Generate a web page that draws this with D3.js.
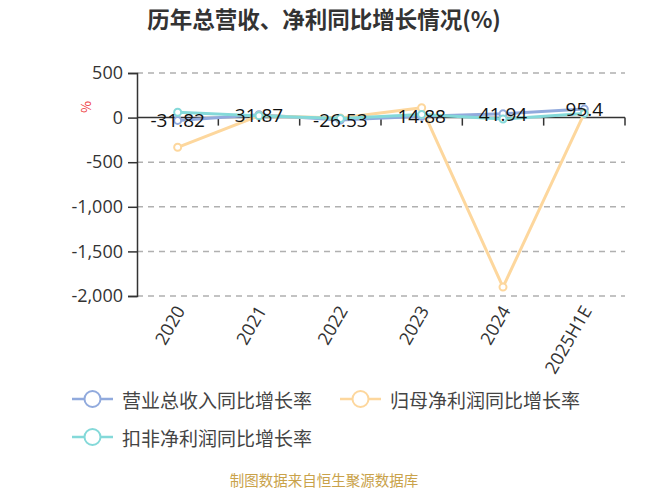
<!DOCTYPE html>
<html>
<head>
<meta charset="utf-8">
<script src="https://cdn.jsdelivr.net/npm/d3@7/dist/d3.min.js"></script>
<style>
  body { margin: 0; background: #fff; }
  svg { display: block; font-family: "Noto Sans CJK SC", "Noto Sans", sans-serif; }
</style>
</head>
<body>
<div id="chart"></div>
<script>
// 数据
const years = ['2020', '2021', '2022', '2023', '2024', '2025H1E'];
const revenueGrowth = [-31.82, 31.87, -26.53, 14.88, 41.94, 95.4];
const netProfitGrowth = [-333, 20, -5, 110, -1900, 50];
const deductedProfitGrowth = [60, 20, -10, 36, -17, 47];
const yTicks = [500, 0, -500, -1000, -1500, -2000];

const seriesNames = ['营业总收入同比增长率', '归母净利润同比增长率', '扣非净利润同比增长率'];
const seriesColors = ['#91aadd', '#fdd79d', '#84d9d9'];

const numFont = '"Open Sans", "Noto Sans", sans-serif';
const width = 650, height = 488;
const margin = { left: 137, right: 25, top: 73, bottom: 192 };

const svg = d3.select('#chart').append('svg')
    .attr('width', width)
    .attr('height', height);

// 标题
svg.append('text')
    .attr('x', 324)
    .attr('y', 28)
    .attr('text-anchor', 'middle')
    .attr('font-size', 22.5)
    .attr('font-weight', 'bold')
    .attr('fill', '#333')
    .text('历年总营收、净利同比增长情况(%)');

const x = d3.scaleBand()
    .domain(years)
    .range([margin.left, width - margin.right]);

const y = d3.scaleLinear()
    .domain([-2000, 500])
    .range([height - margin.bottom, margin.top]);

// 网格线
svg.append('g')
    .selectAll('line')
    .data(yTicks.filter(d => d !== 0))
    .enter()
    .append('line')
    .attr('x1', margin.left)
    .attr('x2', width - margin.right)
    .attr('y1', d => y(d))
    .attr('y2', d => y(d))
    .attr('stroke', '#b0b0b0')
    .attr('stroke-width', 1.5)
    .attr('stroke-dasharray', '6,5');

// Y轴 (用普通连字符作负号)
const fmt = d3.format(',');
const yAxis = svg.append('g')
    .attr('transform', `translate(${margin.left},0)`)
    .call(d3.axisLeft(y).tickValues(yTicks)
        .tickFormat(d => fmt(d).replace('\u2212', '-'))
        .tickSizeOuter(0).tickSize(9).tickPadding(5));
yAxis.select('.domain').attr('stroke', '#333').attr('stroke-width', 1.5);
yAxis.selectAll('.tick line').attr('stroke', '#333').attr('stroke-width', 1.5);
yAxis.selectAll('.tick text')
    .attr('font-size', 18)
    .attr('fill', '#333')
    .attr('font-family', numFont);

// 单位
svg.append('text')
    .attr('transform', 'translate(91,107) rotate(-90)')
    .attr('text-anchor', 'middle')
    .attr('font-size', 13)
    .attr('fill', '#e33')
    .text('%');

// X轴 (位于0处)
const xAxis = svg.append('g')
    .attr('transform', `translate(0,${y(0)})`);
xAxis.append('line')
    .attr('x1', margin.left)
    .attr('x2', width - margin.right)
    .attr('stroke', '#333')
    .attr('stroke-width', 1.5);
xAxis.selectAll('.xtick')
    .data(years)
    .enter()
    .append('line')
    .attr('x1', d => x(d) + x.bandwidth())
    .attr('x2', d => x(d) + x.bandwidth())
    .attr('y1', 0)
    .attr('y2', 8)
    .attr('stroke', '#333')
    .attr('stroke-width', 1.5);

// X轴标签
svg.append('g')
    .selectAll('text')
    .data(years)
    .enter()
    .append('text')
    .attr('transform', d => `translate(${x(d) + x.bandwidth() / 2 + 2},${y(-2000) + 11}) rotate(-60)`)
    .attr('text-anchor', 'end')
    .attr('dominant-baseline', 'central')
    .attr('font-size', 18)
    .attr('fill', '#333')
    .attr('font-family', numFont)
    .text(d => d);

// 折线
const allSeries = [revenueGrowth, netProfitGrowth, deductedProfitGrowth];
const line = d3.line()
    .x((d, i) => x(years[i]) + x.bandwidth() / 2)
    .y(d => y(d));

allSeries.forEach((values, si) => {
    const g = svg.append('g');
    g.append('path')
        .datum(values)
        .attr('d', line)
        .attr('fill', 'none')
        .attr('stroke', seriesColors[si])
        .attr('stroke-width', 3)
        .attr('stroke-linejoin', 'round');
    g.selectAll('circle')
        .data(values)
        .enter()
        .append('circle')
        .attr('cx', (d, i) => x(years[i]) + x.bandwidth() / 2)
        .attr('cy', d => y(d))
        .attr('r', 3.5)
        .attr('fill', '#fff')
        .attr('stroke', seriesColors[si])
        .attr('stroke-width', 2);
});

// 数据标签 (营业总收入)
svg.append('g')
    .selectAll('text')
    .data(revenueGrowth)
    .enter()
    .append('text')
    .attr('x', (d, i) => x(years[i]) + x.bandwidth() / 2)
    .attr('y', d => y(d))
    .attr('text-anchor', 'middle')
    .attr('dominant-baseline', 'central')
    .attr('font-size', 19)
    .attr('fill', '#111')
    .attr('font-family', numFont)
    .text(d => d);

// 图例
const legendPos = [[72, 399], [340, 399], [72, 437]];
const legend = svg.append('g')
    .selectAll('g')
    .data(seriesNames)
    .enter()
    .append('g')
    .attr('transform', (d, i) => `translate(${legendPos[i][0]},${legendPos[i][1]})`);
legend.append('line')
    .attr('x1', 0).attr('x2', 41)
    .attr('stroke', (d, i) => seriesColors[i])
    .attr('stroke-width', 2.5);
legend.append('circle')
    .attr('cx', 20.5)
    .attr('r', 8)
    .attr('fill', '#fff')
    .attr('stroke', (d, i) => seriesColors[i])
    .attr('stroke-width', 2);
legend.append('text')
    .attr('x', 50)
    .attr('dominant-baseline', 'central')
    .attr('font-size', 19)
    .attr('fill', '#444')
    .text(d => d);

// 数据来源
svg.append('text')
    .attr('x', 324)
    .attr('y', 479)
    .attr('text-anchor', 'middle')
    .attr('dominant-baseline', 'central')
    .attr('font-size', 14.5)
    .attr('fill', '#c9a24a')
    .text('制图数据来自恒生聚源数据库');
</script>
</body>
</html>
